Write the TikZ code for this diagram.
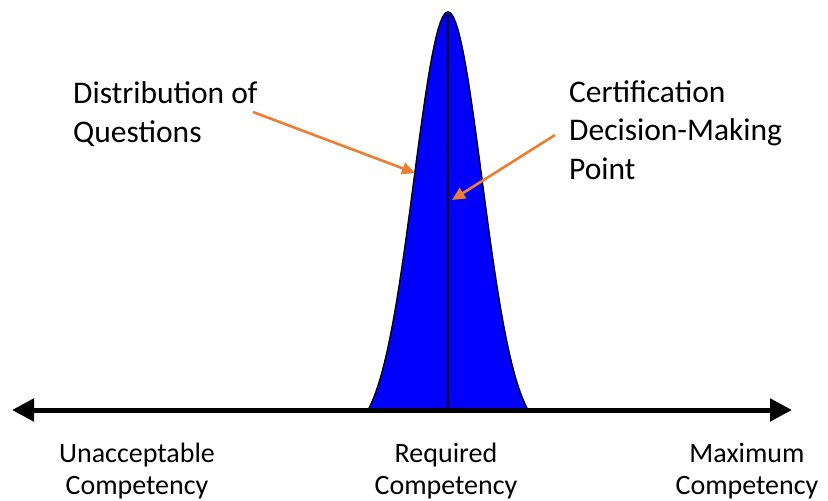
\documentclass[tikz,border=0pt]{standalone}
\usepackage{fontspec}
\setmainfont{Carlito}
\usetikzlibrary{arrows.meta, positioning}

\definecolor{PtrOrange}{RGB}{237,125,49}
\definecolor{BellBlue}{RGB}{0,0,255}

\begin{document}
\begin{tikzpicture}[
	x=1pt, y=-1pt,
	TopLabel/.style={align=left, inner sep=0pt, anchor=base west,
		font=\fontsize{31.5}{38.5}\selectfont},
	AxisLabel/.style={align=center, inner sep=0pt, anchor=base,
		font=\fontsize{28}{32}\selectfont},
	PointerArrow/.style={draw=PtrOrange, line width=2.6pt,
		-{Triangle[length=13pt,width=12pt]}}
	]
\useasboundingbox (0,0) rectangle (828,501);

\coordinate (peak) at (448,12);
\coordinate (base) at (448,410);
\coordinate (axisL) at (12,410);
\coordinate (axisR) at (792,410);

\fill [BellBlue, draw=black, line width=1.4pt]
	plot [domain=-80:80, samples=120, smooth]
	({448+\x},{410-398*(exp(-\x*\x/2312)-0.0628)/0.9372});
\draw [black, line width=1.4pt] (peak) -- (base);
\draw [line width=5pt, {Triangle[length=22pt,width=22pt]}-{Triangle[length=22pt,width=22pt]}]
	(axisL) -- (axisR);

\node [TopLabel] (dist) at (73,142) {Distribution of\\Questions};
\node [TopLabel] (cert) at (569,179) {Certification\\Decision-Making\\Point};

\coordinate (distFrom) at (253,112);
\coordinate (distTo) at (415,173);
\coordinate (certFrom) at (555,135);
\coordinate (certTo) at (452,200);
\draw [PointerArrow] (distFrom) -- (distTo);
\draw [PointerArrow] (certFrom) -- (certTo);

\node [AxisLabel] (low) at (137,494) {Unacceptable\\Competency};
\node [AxisLabel] (req) at (446,494) {Required\\Competency};
\node [AxisLabel] (max) at (747,494) {Maximum\\Competency};

\end{tikzpicture}
\end{document}
